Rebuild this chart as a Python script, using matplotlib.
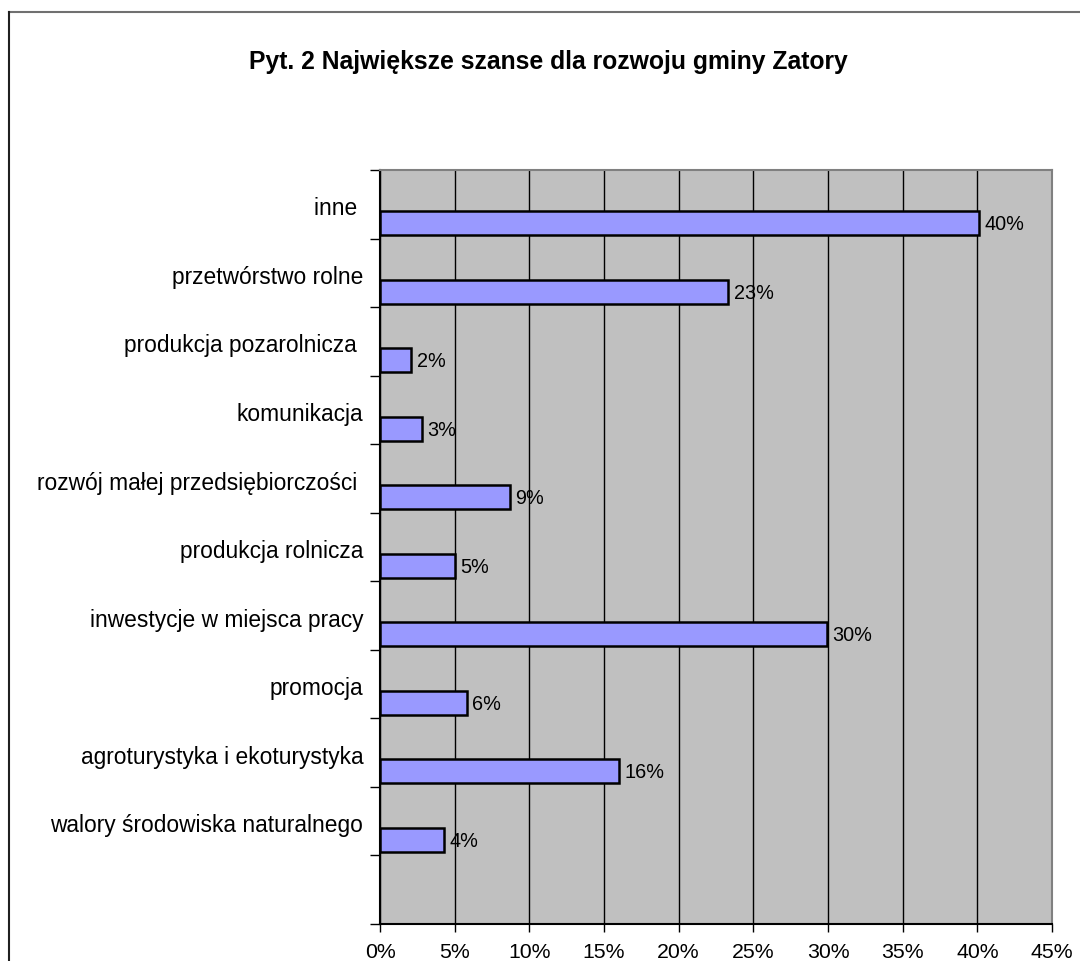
import matplotlib
matplotlib.use("Agg")
import matplotlib.pyplot as plt
from matplotlib.lines import Line2D

plt.rcParams['font.family'] = ['Liberation Sans', 'DejaVu Sans']

title = "Pyt. 2 Największe szanse dla rozwoju gminy Zatory"
categories = [
    "inne ",
    "przetwórstwo rolne",
    "produkcja pozarolnicza ",
    "komunikacja",
    "rozwój małej przedsiębiorczości ",
    "produkcja rolnicza",
    "inwestycje w miejsca pracy",
    "promocja",
    "agroturystyka i ekoturystyka",
    "walory środowiska naturalnego",
]
values = [40.1, 23.3, 2.1, 2.8, 8.7, 5.0, 29.9, 5.8, 16.0, 4.3]
value_labels = ["40%", "23%", "2%", "3%", "9%", "5%", "30%", "6%", "16%", "4%"]
xticks = [0, 5, 10, 15, 20, 25, 30, 35, 40, 45]
n_bands = len(categories) + 1  # one empty band at the bottom

fig = plt.figure(figsize=(10.8, 9.61), dpi=100)
ax = fig.add_axes([380 / 1080, 1 - 924 / 961, (1052 - 380) / 1080, (924 - 170) / 961])
ax.set_facecolor('#C0C0C0')

# bars sit in the lower part of each category band
pos = [i + 0.775 for i in range(len(categories))]
ax.barh(pos, values, height=0.35, color='#9999FF', edgecolor='black', linewidth=1.8, zorder=3)

for p, v, lab in zip(pos, values, value_labels):
    ax.annotate(lab, (v, p), xytext=(4, -1), textcoords='offset points',
                ha='left', va='center', fontsize=14.3, zorder=4)

ax.set_xlim(0, 45)
ax.set_ylim(n_bands, 0)
ax.set_xticks(xticks)
ax.set_xticklabels([f"{t}%" for t in xticks], fontsize=15.3)
ax.tick_params(axis='x', length=6, width=1, pad=8, direction='out')
ax.grid(axis='x', color='black', linewidth=1, zorder=1)

ax.set_yticks(range(n_bands + 1))
ax.set_yticklabels([])
ax.set_yticks([i + 0.53 for i in range(len(categories))], minor=True)
ax.set_yticklabels(categories, minor=True, fontsize=16.4)
ax.tick_params(axis='y', which='major', length=7, width=1, direction='out')
ax.tick_params(axis='y', which='minor', length=0, pad=12)

ax.spines['left'].set_color('black')
ax.spines['bottom'].set_color('black')
ax.spines['left'].set_linewidth(1.5)
ax.spines['bottom'].set_linewidth(1.5)
ax.spines['top'].set_color('#808080')
ax.spines['right'].set_color('#808080')
ax.spines['top'].set_linewidth(1.5)
ax.spines['right'].set_linewidth(1.5)

fig.text(548 / 1080, 1 - 62 / 961, title, ha='center', va='center',
         fontsize=17.8, fontweight='bold')

# chart area frame (only top and left edges are visible)
fig.add_artist(Line2D([9 / 1080, 1.0], [1 - 12 / 961, 1 - 12 / 961],
                      transform=fig.transFigure, color='#707070', linewidth=1.5))
fig.add_artist(Line2D([9 / 1080, 9 / 1080], [0, 1 - 12 / 961],
                      transform=fig.transFigure, color='#202020', linewidth=1.5))

fig.savefig('out.png', dpi=100)
